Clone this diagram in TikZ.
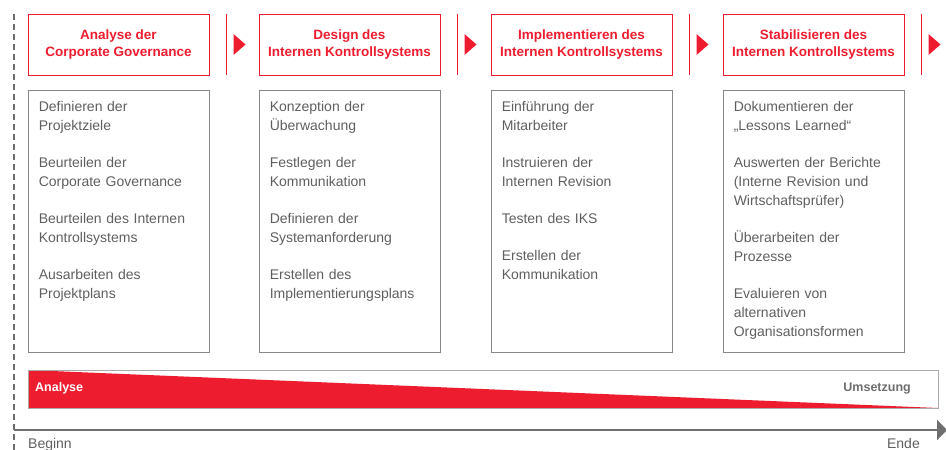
\documentclass[tikz,border=0pt]{standalone}
\usepackage{fontspec}
\setmainfont{Liberation Sans}
\usetikzlibrary{arrows.meta, positioning, calc}
\definecolor{iksred}{RGB}{237, 28, 46}
\definecolor{iksgray}{RGB}{95, 95, 95}
\definecolor{iksframe}{RGB}{135, 135, 135}
\definecolor{iksaxis}{RGB}{110, 110, 110}

\begin{document}
\begin{tikzpicture}[x=1pt, y=-1pt,
    phase/.style={draw=iksred, line width=0.9pt, minimum width=181pt, minimum height=61pt, inner sep=0pt, text=iksred, align=center, font=\fontsize{13.5}{17}\selectfont\bfseries},
    taskbox/.style={draw=iksframe, line width=0.9pt, minimum width=181pt, minimum height=262pt, inner sep=0pt},
    tasks/.style={anchor=north west, inner sep=0pt, text width=168pt, align=left, text=iksgray, font=\fontsize{14}{19}\selectfont}]
    \useasboundingbox (0,0) rectangle (946,450);

    % Phase headers
    \node[phase] (analyse) at (118.5,44.5) {Analyse der\\Corporate Governance};
    \node[phase] (design) at (349.5,44.5) {Design des\\Internen Kontrollsystems};
    \node[phase] (implement) at (581.5,44.5) {Implementieren des\\Internen Kontrollsystems};
    \node[phase] (stabil) at (813.5,44.5) {Stabilisieren des\\Internen Kontrollsystems};

    % Separators with arrow marks
    \foreach \x in {226.5,457.5,689.5,921.5} {
        \draw[iksred, line width=1pt] (\x,14) -- (\x,75);
        \fill[iksred] (\x+7,34) -- (\x+19,44.5) -- (\x+7,55) -- cycle;
    }

    % Task boxes
    \node[taskbox] (boxA) at (118.5,221) {};
    \node[taskbox] (boxB) at (349.5,221) {};
    \node[taskbox] (boxC) at (581.5,221) {};
    \node[taskbox] (boxD) at (813.5,221) {};

    \node[tasks] (tasksA) at ([xshift=11pt,yshift=-12pt]boxA.north west) {Definieren der\\Projektziele\\[18pt]Beurteilen der\\Corporate Governance\\[18pt]Beurteilen des Internen\\Kontrollsystems\\[18pt]Ausarbeiten des\\Projektplans};
    \node[tasks] (tasksB) at ([xshift=11pt,yshift=-12pt]boxB.north west) {Konzeption der\\Überwachung\\[18pt]Festlegen der\\Kommunikation\\[18pt]Definieren der\\Systemanforderung\\[18pt]Erstellen des\\Implementierungsplans};
    \node[tasks] (tasksC) at ([xshift=11pt,yshift=-12pt]boxC.north west) {Einführung der\\Mitarbeiter\\[18pt]Instruieren der\\Internen Revision\\[18pt]Testen des IKS\\[18pt]Erstellen der\\Kommunikation};
    \node[tasks] (tasksD) at ([xshift=11pt,yshift=-12pt]boxD.north west) {Dokumentieren der\\„Lessons Learned“\\[18pt]Auswerten der Berichte\\(Interne Revision und\\Wirtschaftsprüfer)\\[18pt]Überarbeiten der\\Prozesse\\[18pt]Evaluieren von\\alternativen\\Organisationsformen};

    % Shift from analysis to implementation
    \fill[iksred] (28,370) -- (938,408) -- (28,408) -- cycle;
    \draw[iksframe!70, line width=0.8pt] (28,370) rectangle (938,408);
    \node[anchor=base west, inner sep=0pt, text=white, font=\fontsize{12.5}{15}\selectfont\bfseries] (phaseA) at (35,391) {Analyse};
    \node[anchor=base east, inner sep=0pt, text=iksaxis, font=\fontsize{12.5}{15}\selectfont\bfseries] (phaseU) at (911,391) {Umsetzung};

    % Time axis
    \draw[iksaxis, line width=2.8pt, dash pattern=on 6pt off 4pt] (14,14) -- (14,452);
    \coordinate (start) at (14,430);
    \coordinate (finish) at (947,430);
    \draw[iksaxis, line width=2.5pt, -{Triangle[length=10pt, width=20pt]}] (start) -- (finish);
    \node[anchor=base west, inner sep=0pt, text=iksgray, font=\fontsize{14}{17}\selectfont] (beginn) at (28,448) {Beginn};
    \node[anchor=base east, inner sep=0pt, text=iksgray, font=\fontsize{14}{17}\selectfont] (ende) at (920,448) {Ende};
\end{tikzpicture}
\end{document}
